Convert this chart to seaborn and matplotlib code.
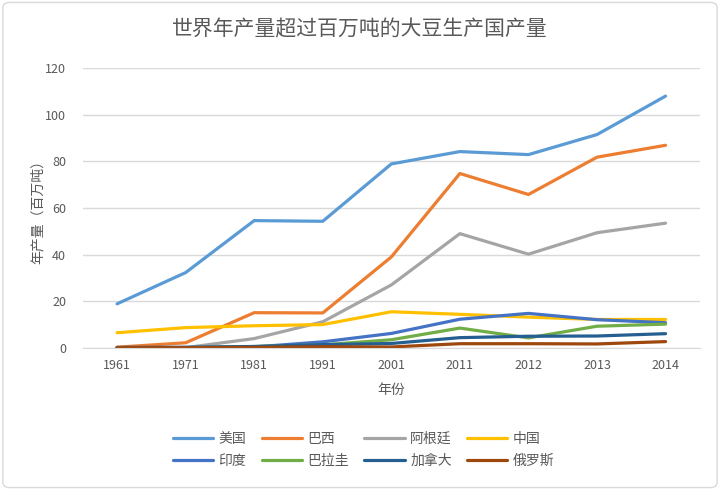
import matplotlib
matplotlib.use("Agg")
import matplotlib.pyplot as plt
import matplotlib.patches as mpatches
import pandas as pd
import seaborn as sns

# 数据（百万吨）
years = ['1961', '1971', '1981', '1991', '2001', '2011', '2012', '2013', '2014']
countries = ['美国', '巴西', '阿根廷', '中国', '印度', '巴拉圭', '加拿大', '俄罗斯']
usa = [18.9, 32.3, 54.6, 54.3, 78.9, 84.2, 82.9, 91.5, 108.0]
brazil = [0.3, 2.2, 15.1, 15.0, 39.0, 74.8, 65.8, 81.8, 86.9]
argentina = [0.0, 0.1, 4.0, 11.2, 27.0, 49.0, 40.2, 49.4, 53.5]
china = [6.5, 8.7, 9.5, 10.0, 15.5, 14.4, 13.2, 12.2, 12.2]
india = [0.0, 0.1, 0.4, 2.6, 6.2, 12.3, 14.8, 12.1, 10.8]
paraguay = [0.0, 0.1, 0.6, 1.3, 3.5, 8.5, 4.3, 9.3, 10.2]
canada = [0.2, 0.3, 0.6, 1.4, 1.9, 4.4, 5.0, 5.1, 6.1]
russia = [0.1, 0.1, 0.2, 0.5, 0.4, 1.8, 1.8, 1.7, 2.7]

series = [usa, brazil, argentina, china, india, paraguay, canada, russia]
colors = ['#5B9BD5', '#ED7D31', '#A5A5A5', '#FFC000',
          '#4472C4', '#70AD47', '#255E91', '#9E480E']

df = pd.DataFrame({
    '年份': years * len(countries),
    '国家': [c for c in countries for _ in years],
    '产量': [v for s in series for v in s],
})

sns.set_style('white')
plt.rcParams['font.family'] = ['Noto Sans CJK SC', 'DejaVu Sans']

fig = plt.figure(figsize=(7.2, 4.9), dpi=100)
ax = fig.add_axes([0.115, 0.29, 0.857, 0.571])

sns.lineplot(data=df, x='年份', y='产量', hue='国家', hue_order=countries,
             palette=colors, linewidth=2.3, sort=False, ax=ax)

ax.set_xlim(-0.5, len(years) - 0.5)
ax.set_ylim(0, 120)
ax.set_yticks(range(0, 121, 20))
ax.grid(axis='y', color='#D9D9D9', linewidth=1)
ax.set_axisbelow(True)
for s in ['top', 'right', 'left']:
    ax.spines[s].set_visible(False)
ax.spines['bottom'].set_color('#D9D9D9')
ax.tick_params(axis='both', length=0, labelsize=9, colors='#595959')
ax.tick_params(axis='y', pad=12)
ax.tick_params(axis='x', pad=8)

ax.set_xlabel('年份', fontsize=10, color='#595959', labelpad=8)
ax.set_ylabel('年产量（百万吨）', fontsize=10, color='#595959', labelpad=0)
fig.suptitle('世界年产量超过百万吨的大豆生产国产量', x=0.5, y=0.962,
             fontsize=15, color='#595959')

# 图例按行排列：第一行 美国 巴西 阿根廷 中国
handles, labels = ax.get_legend_handles_labels()
order = [0, 4, 1, 5, 2, 6, 3, 7]
ax.legend([handles[i] for i in order], [labels[i] for i in order],
          loc='center', bbox_to_anchor=(0.505, 0.082),
          bbox_transform=fig.transFigure, ncol=4, frameon=False,
          fontsize=10, labelcolor='#595959', handlelength=2.9,
          columnspacing=1.1, handletextpad=0.4, labelspacing=0.6)

fig.patches.append(mpatches.FancyBboxPatch(
    (0.004, 0.005), 0.992, 0.99, boxstyle='round,pad=0,rounding_size=0.01',
    transform=fig.transFigure, fill=False, edgecolor='#D9D9D9', linewidth=1))

fig.savefig('out.png', dpi=100)
